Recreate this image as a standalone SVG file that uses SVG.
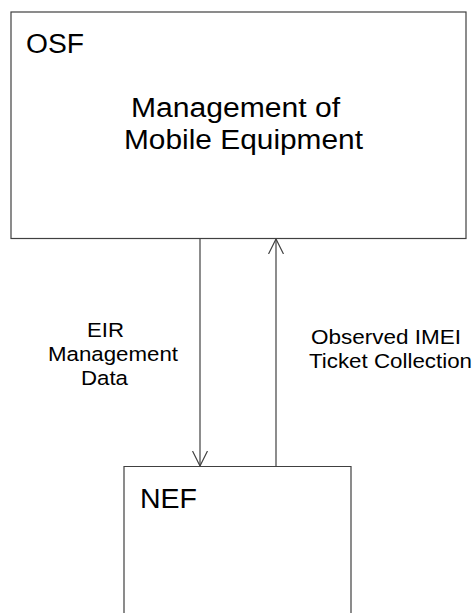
<svg xmlns="http://www.w3.org/2000/svg" width="472" height="613" viewBox="0 0 472 613">
<defs>
<style>
.box{fill:#fff;stroke:#404040;stroke-width:1.2}
.t{font-family:"Liberation Sans",Arial,sans-serif;fill:#000}
.big{font-size:27px}
.lbl{font-size:20.5px}
.ln{stroke:#404040;stroke-width:1.2;fill:none}
</style>
<marker id="ah" viewBox="0 0 16 16" refX="15" refY="8" markerWidth="16" markerHeight="16" markerUnits="userSpaceOnUse" orient="auto">
<path d="M0,0.5 L15,8 L0,15.5" fill="none" stroke="#404040" stroke-width="1.2"/>
</marker>
</defs>
<rect width="472" height="613" fill="#fff"/>
<g id="osf">
<rect class="box" x="11" y="12" width="455" height="226.5"/>
<text class="t big" x="26" y="53" textLength="58" lengthAdjust="spacingAndGlyphs">OSF</text>
<text class="t big" x="131" y="117" textLength="209" lengthAdjust="spacingAndGlyphs">Management of</text>
<text class="t big" x="124" y="149" textLength="239" lengthAdjust="spacingAndGlyphs">Mobile Equipment</text>
</g>
<g id="nef">
<path class="box" d="M124,613 L124,466.5 L351,466.5 L351,613"/>
<text class="t big" x="140" y="508" textLength="57" lengthAdjust="spacingAndGlyphs">NEF</text>
</g>
<g id="connectors">
<line class="ln" x1="200" y1="238.5" x2="200" y2="466" marker-end="url(#ah)"/>
<line class="ln" x1="276" y1="466.5" x2="276" y2="239" marker-end="url(#ah)"/>
</g>
<g id="labels">
<text class="t lbl" x="87" y="337" textLength="37" lengthAdjust="spacingAndGlyphs">EIR</text>
<text class="t lbl" x="48" y="361" textLength="130" lengthAdjust="spacingAndGlyphs">Management</text>
<text class="t lbl" x="81" y="385" textLength="47" lengthAdjust="spacingAndGlyphs">Data</text>
<text class="t lbl" x="311" y="344" textLength="150" lengthAdjust="spacingAndGlyphs">Observed IMEI</text>
<text class="t lbl" x="309" y="368" textLength="163" lengthAdjust="spacingAndGlyphs">Ticket Collection</text>
</g>
</svg>
